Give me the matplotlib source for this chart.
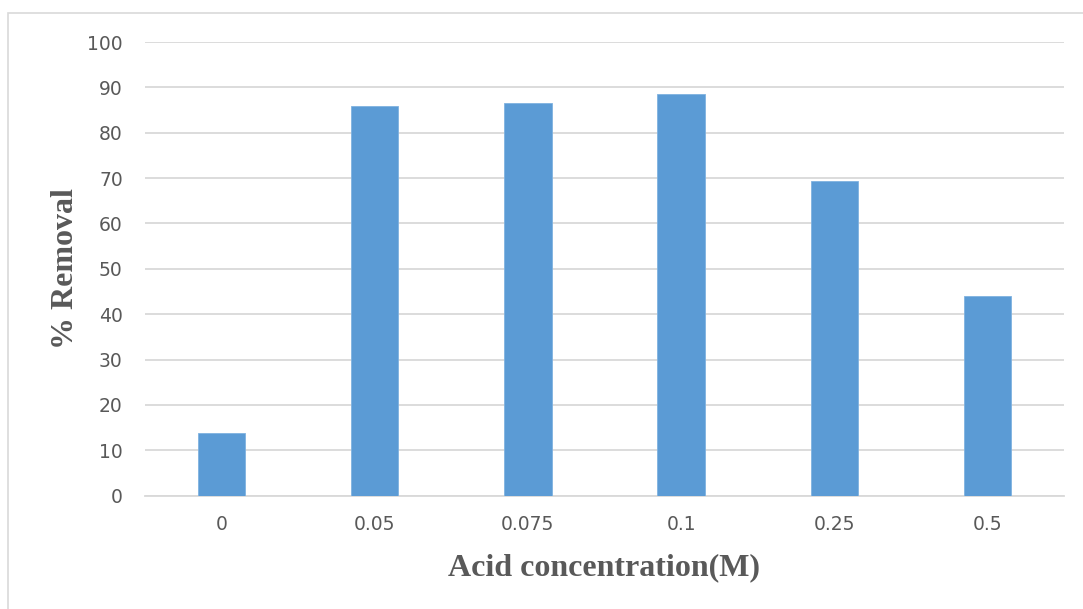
import matplotlib
matplotlib.use("Agg")
import matplotlib.pyplot as plt
from matplotlib.patches import Rectangle

# Acid concentration (M) vs percentage removal
categories = ["0", "0.05", "0.075", "0.1", "0.25", "0.5"]
removal = [13.8, 85.8, 86.5, 88.6, 69.3, 44.0]
y_ticks = [0, 10, 20, 30, 40, 50, 60, 70, 80, 90, 100]

W, H = 1083, 609
fig = plt.figure(figsize=(W / 100, H / 100), dpi=100)
fig.patch.set_facecolor("white")

# light frame around the chart area
fig.add_artist(Rectangle((8 / W, -0.05), 1.2, 1 - 13 / H + 0.05,
                         transform=fig.transFigure, fill=False,
                         edgecolor="#d9d9d9", linewidth=1.2))

left, right = 145 / W, 1064 / W
bottom, top = 1 - 495.7 / H, 1 - 42 / H
ax = fig.add_axes([left, bottom, right - left, top - bottom])

x = range(len(categories))
ax.bar(x, removal, width=0.31, color="#5b9bd5", edgecolor="#7fb2e0",
       linewidth=0.6, zorder=3)

ax.set_xlim(-0.5, len(categories) - 0.5)
ax.set_ylim(0, 100)
ax.set_yticks(y_ticks)
ax.set_xticks(list(x))
ax.set_xticklabels(categories)

ax.yaxis.grid(True, color="#d9d9d9", linewidth=1.3, zorder=0)
ax.set_axisbelow(True)
for s in ["left", "right", "top"]:
    ax.spines[s].set_visible(False)
ax.spines["bottom"].set_color("#d9d9d9")
ax.spines["bottom"].set_linewidth(1.3)
ax.tick_params(axis="both", length=0, labelsize=13.5, colors="#595959")
ax.tick_params(axis="y", pad=16)
ax.tick_params(axis="x", pad=14)

ax.set_xlabel("Acid concentration(M)", fontfamily="Liberation Serif",
              fontweight="bold", fontsize=23, color="#595959", labelpad=14)
ax.set_ylabel("% Removal", fontfamily="Liberation Serif",
              fontweight="bold", fontsize=23, color="#595959", labelpad=5)

fig.savefig("out.png", dpi=100, facecolor="white")
